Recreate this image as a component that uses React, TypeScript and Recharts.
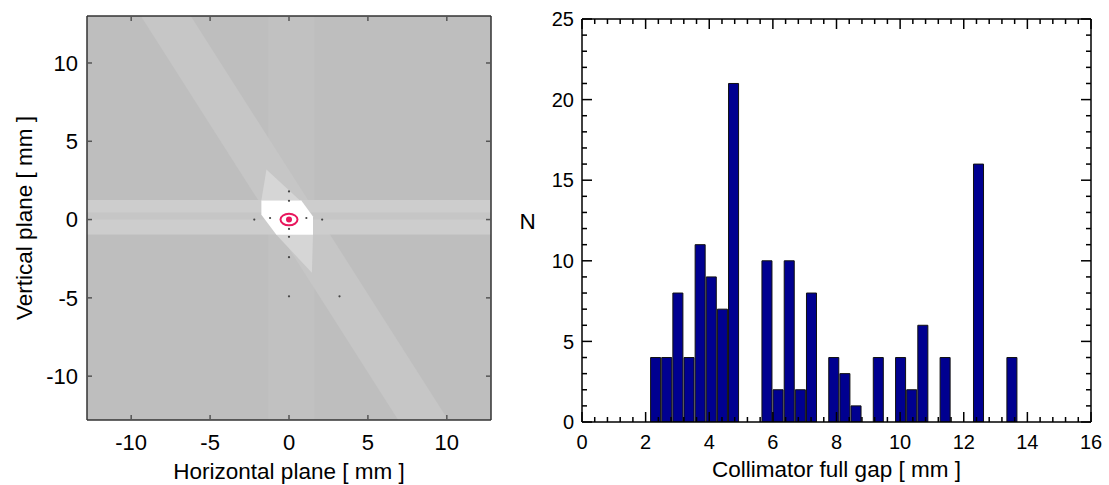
import React from "react";
import {
  ComposedChart,
  Bar,
  Area,
  Scatter,
  XAxis,
  YAxis,
  CartesianGrid,
  Label,
} from "recharts";

const FONT = '"Liberation Sans", Arial, Helvetica, sans-serif';

// ---- right panel: collimator full gap histogram ----
const gapBinCenters = [
  2.3, 2.65, 3.0, 3.35, 3.7, 4.05, 4.4, 4.75, 5.1, 5.45, 5.8, 6.15, 6.5, 6.85,
  7.2, 7.55, 7.9, 8.25, 8.6, 8.95, 9.3, 9.65, 10.0, 10.35, 10.7, 11.05, 11.4,
  11.75, 12.1, 12.45, 12.8, 13.15, 13.5,
];
const gapCounts = [
  4, 4, 8, 4, 11, 9, 7, 21, 0, 0, 10, 2, 10, 2, 8, 0, 4, 3, 1, 0, 4, 0, 4, 2, 6,
  0, 4, 0, 0, 16, 0, 0, 4,
];
const gapBinWidth = 0.35;
const gapXMajor = [0, 2, 4, 6, 8, 10, 12, 14, 16];
const gapYMajor = [0, 5, 10, 15, 20, 25];
const gapXMinor = Array.from({ length: 41 }, (_, i) => +(i * 0.4).toFixed(1));
const gapYMinor = Array.from({ length: 26 }, (_, i) => i);

const histData = gapBinCenters.map((x, i) => ({ x, n: gapCounts[i] }));

// ---- left panel: beam footprint map (regions in mm) ----
const beamTicks = [-10, -5, 0, 5, 10];
const verticalBand = [
  { x: -1.3, y: [-12.8, 13] },
  { x: 1.6, y: [-12.8, 13] },
];
const diagonalBand = [
  { x: -12.8, y: [18.4, 23.4] },
  { x: 12.8, y: [-22.1, -17.1] },
];
const horizontalBand = [
  { x: -12.8, y: [-0.95, 1.25] },
  { x: 12.8, y: [-0.95, 1.25] },
];
const horizontalCore = [
  { x: -12.8, y: [0.0, 0.45] },
  { x: 12.8, y: [0.0, 0.45] },
];
const upperTail = [
  { x: -1.75, y: [1.21, 1.21] },
  { x: -1.43, y: [1.21, 3.2] },
  { x: 0.7, y: [1.21, 1.21] },
];
const lowerTail = [
  { x: -0.8, y: [-0.97, -0.97] },
  { x: 1.45, y: [-3.4, -0.97] },
  { x: 1.52, y: [-0.97, -0.97] },
];
const apertureCore = [
  { x: -1.75, y: [0.3, 1.21] },
  { x: -0.8, y: [-0.97, 1.21] },
  { x: 0.78, y: [-0.97, 1.21] },
  { x: 1.52, y: [-0.97, 0.19] },
];
const beamCentre = [{ x: 0, y: 0 }];
const gridDots = [
  { x: -2.2, y: 0 },
  { x: -1.2, y: 0.1 },
  { x: 1.1, y: 0.1 },
  { x: 2.1, y: 0 },
  { x: 0, y: 1.2 },
  { x: 0, y: 1.8 },
  { x: 0, y: -0.6 },
  { x: 0, y: -1.1 },
  { x: 0, y: -2.4 },
  { x: 0, y: -4.9 },
  { x: 3.2, y: -4.9 },
];

type Side = "bottom" | "top" | "left" | "right";

// inward tick marks (major/minor) plus optional label, drawn at the axis line
function tickMarks(
  side: Side,
  majors: number[],
  o: { major: number; minor: number; color: string; size?: number; gap?: number }
) {
  return (props: any) => {
    const x = Number(props.x);
    const y = Number(props.y);
    const v = props.payload.value;
    const isMajor = majors.some((m) => Math.abs(m - v) < 1e-6);
    const len = isMajor ? o.major : o.minor;
    const vertAxis = side === "left" || side === "right";
    let rx = x - 0.75;
    let ry = y - 0.75;
    if (side === "bottom") ry = y - len;
    if (side === "top") ry = y;
    if (side === "left") rx = x;
    if (side === "right") rx = x - len;
    let label = null;
    if (o.size && isMajor) {
      if (side === "bottom")
        label = (
          <text x={x} y={y + (o.gap || 0)} textAnchor="middle" fontSize={o.size} fontFamily={FONT} fill="#000" stroke="none">
            {String(v)}
          </text>
        );
      if (side === "left")
        label = (
          <text x={x - (o.gap || 0)} y={y + o.size * 0.36} textAnchor="end" fontSize={o.size} fontFamily={FONT} fill="#000" stroke="none">
            {String(v)}
          </text>
        );
    }
    return (
      <g>
        {len > 0 && (
          <rect
            x={rx}
            y={ry}
            width={vertAxis ? len : 1.5}
            height={vertAxis ? 1.5 : len}
            fill={o.color}
            stroke="none"
          />
        )}
        {label}
      </g>
    );
  };
}

function BeamMap() {
  const frame = { stroke: "#333", strokeWidth: 1.5 };
  const t = { major: 5, minor: 0, color: "#555" };
  const area = (data: any[], fill: string) => (
    <Area
      data={data}
      dataKey="y"
      type="linear"
      fill={fill}
      fillOpacity={1}
      stroke="none"
      dot={false}
      activeDot={false}
      isAnimationActive={false}
    />
  );
  return (
    <ComposedChart width={500} height={485} margin={{ top: 15, right: 8, bottom: 0, left: 0 }}>
      <CartesianGrid horizontal={false} vertical={false} fill="#bebebe" />
      <XAxis
        dataKey="x"
        type="number"
        domain={[-12.8, 12.8]}
        allowDataOverflow
        ticks={beamTicks}
        interval={0}
        height={65}
        tickSize={0}
        tickMargin={0}
        tickLine={false}
        axisLine={frame}
        tick={tickMarks("bottom", beamTicks, { ...t, size: 22, gap: 30 })}
      >
        <Label
          content={(p: any) => {
            const vb = p.viewBox || { x: 87, y: 420, width: 404, height: 65 };
            return (
              <text x={vb.x + vb.width / 2} y={vb.y + vb.height - 6} textAnchor="middle" fontSize={22.5} fontFamily={FONT} fill="#000">
                Horizontal plane [ mm ]
              </text>
            );
          }}
        />
      </XAxis>
      <XAxis
        xAxisId="top"
        orientation="top"
        dataKey="x"
        type="number"
        domain={[-12.8, 12.8]}
        allowDataOverflow
        ticks={beamTicks}
        interval={0}
        height={1}
        tickSize={0}
        tickMargin={0}
        tickLine={false}
        axisLine={frame}
        tick={tickMarks("top", beamTicks, t)}
      />
      <YAxis
        dataKey="y"
        type="number"
        domain={[-12.8, 13]}
        allowDataOverflow
        ticks={beamTicks}
        interval={0}
        width={87}
        tickSize={0}
        tickMargin={0}
        tickLine={false}
        axisLine={frame}
        tick={tickMarks("left", beamTicks, { ...t, size: 22, gap: 9 })}
      >
        <Label
          content={(p: any) => {
            const vb = p.viewBox || { x: 0, y: 16, width: 87, height: 404 };
            const cy = vb.y + vb.height / 2;
            return (
              <text x={24} y={cy} transform={`rotate(-90 24 ${cy})`} textAnchor="middle" dominantBaseline="central" fontSize={22.5} fontFamily={FONT} fill="#000">
                Vertical plane [ mm ]
              </text>
            );
          }}
        />
      </YAxis>
      <YAxis
        yAxisId="right"
        orientation="right"
        dataKey="y"
        type="number"
        domain={[-12.8, 13]}
        allowDataOverflow
        ticks={beamTicks}
        interval={0}
        width={1}
        tickSize={0}
        tickMargin={0}
        tickLine={false}
        axisLine={frame}
        tick={tickMarks("right", beamTicks, t)}
      />
      {area(verticalBand, "#c1c1c1")}
      {area(diagonalBand, "#c6c6c6")}
      {area(horizontalBand, "#cdcdcd")}
      {area(horizontalCore, "#c6c6c6")}
      {area(upperTail, "#d6d6d6")}
      {area(lowerTail, "#d6d6d6")}
      {area(apertureCore, "#ffffff")}
      <Scatter
        data={gridDots}
        dataKey="y"
        isAnimationActive={false}
        shape={(p: any) => <circle cx={p.cx} cy={p.cy} r={1.1} fill="#444" />}
      />
      <Scatter
        data={beamCentre}
        dataKey="y"
        isAnimationActive={false}
        shape={(p: any) => (
          <g>
            <ellipse cx={p.cx} cy={p.cy} rx={8.5} ry={5.8} fill="none" stroke="#e8175d" strokeWidth={2} />
            <circle cx={p.cx} cy={p.cy} r={3} fill="#e8175d" />
          </g>
        )}
      />
      {/* binds the top/right frame axes so they get drawn */}
      <Scatter
        data={beamCentre}
        dataKey="y"
        xAxisId="top"
        yAxisId="right"
        isAnimationActive={false}
        shape={() => <g />}
      />
    </ComposedChart>
  );
}

function GapHistogram() {
  const frame = { stroke: "#000", strokeWidth: 1.5 };
  const tx = { major: 10, minor: 5, color: "#000" };
  const barSize = (509 * gapBinWidth) / 16;
  return (
    <ComposedChart width={609} height={485} data={histData} margin={{ top: 18, right: 17, bottom: 0, left: 0 }}>
      <XAxis
        dataKey="x"
        type="number"
        domain={[0, 16]}
        allowDataOverflow
        ticks={gapXMinor}
        interval={0}
        height={63}
        tickSize={0}
        tickMargin={0}
        tickLine={false}
        axisLine={frame}
        tick={tickMarks("bottom", gapXMajor, { ...tx, size: 20, gap: 26.5 })}
      >
        <Label
          content={(p: any) => {
            const vb = p.viewBox || { x: 82, y: 422, width: 509, height: 63 };
            return (
              <text x={vb.x + vb.width / 2} y={vb.y + vb.height - 8} textAnchor="middle" fontSize={22.5} fontFamily={FONT} fill="#000">
                Collimator full gap [ mm ]
              </text>
            );
          }}
        />
      </XAxis>
      <XAxis
        xAxisId="top"
        orientation="top"
        dataKey="x"
        type="number"
        domain={[0, 16]}
        allowDataOverflow
        ticks={gapXMinor}
        interval={0}
        height={1}
        tickSize={0}
        tickMargin={0}
        tickLine={false}
        axisLine={frame}
        tick={tickMarks("top", gapXMajor, tx)}
      />
      <YAxis
        type="number"
        domain={[0, 25]}
        allowDataOverflow
        ticks={gapYMinor}
        interval={0}
        width={82}
        tickSize={0}
        tickMargin={0}
        tickLine={false}
        axisLine={frame}
        tick={tickMarks("left", gapYMajor, { ...tx, size: 20, gap: 8 })}
      >
        <Label
          content={(p: any) => {
            const vb = p.viewBox || { x: 0, y: 19, width: 82, height: 403 };
            return (
              <text x={27.5} y={vb.y + vb.height / 2 + 8} textAnchor="middle" fontSize={22.5} fontFamily={FONT} fill="#000">
                N
              </text>
            );
          }}
        />
      </YAxis>
      <YAxis
        yAxisId="right"
        orientation="right"
        type="number"
        domain={[0, 25]}
        allowDataOverflow
        ticks={gapYMinor}
        interval={0}
        width={1}
        tickSize={0}
        tickMargin={0}
        tickLine={false}
        axisLine={frame}
        tick={tickMarks("right", gapYMajor, tx)}
      />
      <Bar dataKey="n" fill="#000090" stroke="#111" strokeWidth={1} barSize={barSize} isAnimationActive={false} />
      {/* binds the top/right frame axes so they get drawn */}
      <Scatter dataKey="n" xAxisId="top" yAxisId="right" isAnimationActive={false} shape={() => <g />} />
    </ComposedChart>
  );
}

export default function App() {
  return (
    <div style={{ position: "absolute", left: 0, top: 0, width: 1109, height: 485, background: "#fff", display: "flex" }}>
      <BeamMap />
      <GapHistogram />
    </div>
  );
}
